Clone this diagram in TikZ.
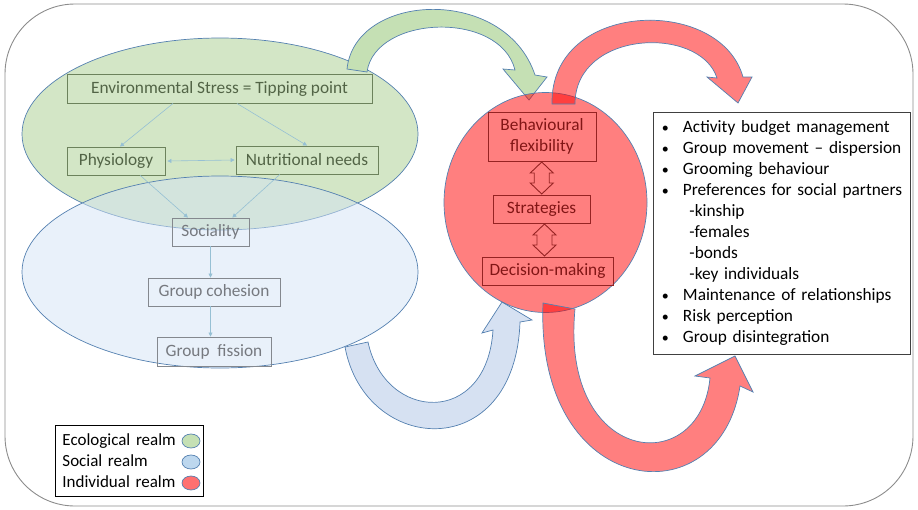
\documentclass[tikz,border=0pt]{standalone}
\usepackage{fontspec}
\setmainfont{Carlito}
\usetikzlibrary{arrows.meta,calc,shapes.geometric}

\definecolor{ecofill}{RGB}{211,230,198}
\definecolor{socfill}{RGB}{211,227,245}
\definecolor{shapeline}{RGB}{84,128,176}
\definecolor{greenarrow}{RGB}{197,224,180}
\definecolor{bluearrow}{RGB}{214,225,242}
\definecolor{ecotext}{RGB}{82,100,70}
\definecolor{ecoline}{RGB}{108,130,92}
\definecolor{soctext}{RGB}{118,121,127}
\definecolor{socline}{RGB}{132,136,142}
\definecolor{indtext}{RGB}{130,22,22}
\definecolor{indline}{RGB}{150,35,35}
\definecolor{linkcol}{RGB}{150,192,212}
\definecolor{framecol}{RGB}{140,140,140}
\definecolor{legred}{RGB}{255,112,112}
\definecolor{legblue}{RGB}{189,215,238}

\newcommand\listbullet{\makebox[26pt][l]{\hspace{5pt}{\fontsize{14}{21}\selectfont\textbullet}}}
\newcommand\listsub{\hspace*{32.5pt}}

\begin{document}
\begin{tikzpicture}[x=1pt,y=-1pt,
  font=\fontsize{17.3}{21}\selectfont,
  ecobox/.style={draw=ecoline,text=ecotext,line width=0.9pt,inner sep=0pt,minimum height=28pt},
  socbox/.style={draw=socline,text=soctext,line width=0.9pt,inner sep=0pt,minimum height=28pt},
  indbox/.style={draw=indline,text=indtext,line width=0.9pt,inner sep=0pt,minimum height=28pt,align=center},
  link/.style={draw=linkcol,line width=0.6pt,-{Triangle[length=4pt,width=4pt]}},
  realm/.style={ellipse,draw=shapeline,line width=0.7pt,inner sep=0pt},
  bandarrow/.style={draw=shapeline,line width=0.7pt,line join=miter},
  dblarrow/.style={draw=indline,line width=0.9pt,line join=miter},
  legdot/.style={ellipse,draw=shapeline,line width=0.7pt,minimum width=18pt,minimum height=14pt,inner sep=0pt}
]
\useasboundingbox (0,0) rectangle (918,509);

% outer frame
\draw[framecol,line width=0.9pt,rounded corners=70pt] (5,4) rectangle (913,506);

% ecological and social realms
\node[realm,fill=ecofill,minimum width=396pt,minimum height=192pt] (eco) at (220,134) {};
\node[realm,fill=socfill,fill opacity=0.5,minimum width=396pt,minimum height=192pt] (soc) at (220,272) {};

% boxes of the two realms
\node[ecobox,minimum width=305pt,minimum height=29pt] (env) at (219.5,88.5) {Environmental Stress = Tipping point};
\node[ecobox,minimum width=98pt] (phys) at (116,161) {Physiology};
\node[ecobox,minimum width=142pt] (nutr) at (307,160) {Nutritional needs};
\node[socbox,minimum width=77pt] (socy) at (210.5,232) {Sociality};
\node[socbox,minimum width=132pt] (coh) at (214,292) {Group cohesion};
\node[socbox,minimum width=114pt,minimum height=29pt] (fis) at (214,351.5) {Group\ \ fission};

% links between the boxes
\draw[link] ($(env.south west)!0.348!(env.south east)$) -- ($(phys.north)+(4,0)$);
\draw[link] ($(env.south west)!0.557!(env.south east)$) -- (nutr.north);
\draw[link,{Triangle[length=4pt,width=4pt]}-{Triangle[length=4pt,width=4pt]}] ($(phys.east)+(2,0)$) -- ($(nutr.west)+(-1,0)$);
\draw[link] ($(phys.south west)!0.745!(phys.south east)$) -- ($(socy.north west)!0.21!(socy.north east)$);
\draw[link] ($(nutr.south west)!0.31!(nutr.south east)$) -- ($(socy.north west)!0.78!(socy.north east)$);
\draw[link] (socy.south) -- (socy.south |- coh.north);
\draw[link] (socy.south |- coh.south) -- (socy.south |- fis.north);

% curved arrows into the individual realm
\path[bandarrow,fill=greenarrow] (347,69) .. controls (355,-8) and (505,-15) .. (535,75)
  -- (547,77) -- (529,100) -- (503,69) -- (515,70)
  .. controls (500,10) and (375,15) .. (367,72) -- cycle;
\path[bandarrow,fill=bluearrow] (345,347) .. controls (365,455) and (515,465) .. (520,322)
  -- (532,320) -- (502,302) -- (482,333) -- (493,330)
  .. controls (487,427) and (385,422) .. (368,342) -- cycle;

% individual realm
\node[realm,fill=red,fill opacity=0.5,minimum width=203pt,minimum height=220pt] (ind) at (545.5,202.5) {};

% curved arrows out of the individual realm
\path[bandarrow,fill=red,fill opacity=0.5] (552,104) .. controls (550,0) and (720,-5) .. (743,77)
  -- (752,77) -- (738,103) -- (707,77) -- (717,78)
  .. controls (700,25) and (575,30) .. (575,104) -- cycle;
\path[bandarrow,fill=red,fill opacity=0.5] (543,303) .. controls (535,500) and (720,520) .. (740,386)
  -- (753,392) -- (735,356) -- (695,376) -- (710,378)
  .. controls (700,480) and (560,465) .. (575,309) -- cycle;

% boxes of the individual realm
\node[indbox,minimum width=108pt,minimum height=49pt] (bf) at (542,136.5) {Behavioural\\flexibility};
\node[indbox,minimum width=97pt] (st) at (541.5,209) {Strategies};
\node[indbox,minimum width=131pt] (dm) at (547.5,271) {Decision-making};

% two-headed block arrows between them
\coordinate (bfst) at ($(bf.south)!0.5!(st.north)$);
\coordinate (stdm) at ($(st.south)!0.5!(dm.north)$);
\foreach \c in {bfst,stdm}
  \draw[dblarrow] ($(\c)+(0,-16)$) -- ++(11.5,11) -- ++(-4,0) -- ++(0,10) -- ++(4,0)
    -- ++(-11.5,11) -- ++(-11.5,-11) -- ++(4,0) -- ++(0,-10) -- ++(-4,0) -- cycle;

% list of outcomes
\node[draw=black!75,fill=white,line width=0.9pt,anchor=north west,text width=250pt,
  minimum height=242pt,inner xsep=3.5pt,align=left] (list) at (653,112) {%
  \listbullet Activity budget management\\
  \listbullet Group movement -- dispersion\\
  \listbullet Grooming behaviour\\
  \listbullet Preferences for social partners\\
  \listsub -kinship\\
  \listsub -females\\
  \listsub -bonds\\
  \listsub -key individuals\\
  \listbullet Maintenance of relationships\\
  \listbullet Risk perception\\
  \listbullet Group disintegration};

% legend
\node[draw=black,line width=0.9pt,anchor=north west,minimum width=148pt,minimum height=71pt,
  inner xsep=7pt,align=left,text width=134pt,font=\fontsize{17}{21}\selectfont] (legend) at (55,425) {%
  Ecological realm\\Social realm\\Individual realm};
\node[legdot,fill=greenarrow] (legeco) at (191,441) {};
\node[legdot,fill=legblue] (legsoc) at (191,462) {};
\node[legdot,fill=legred] (legind) at (191,483) {};
\end{tikzpicture}
\end{document}
